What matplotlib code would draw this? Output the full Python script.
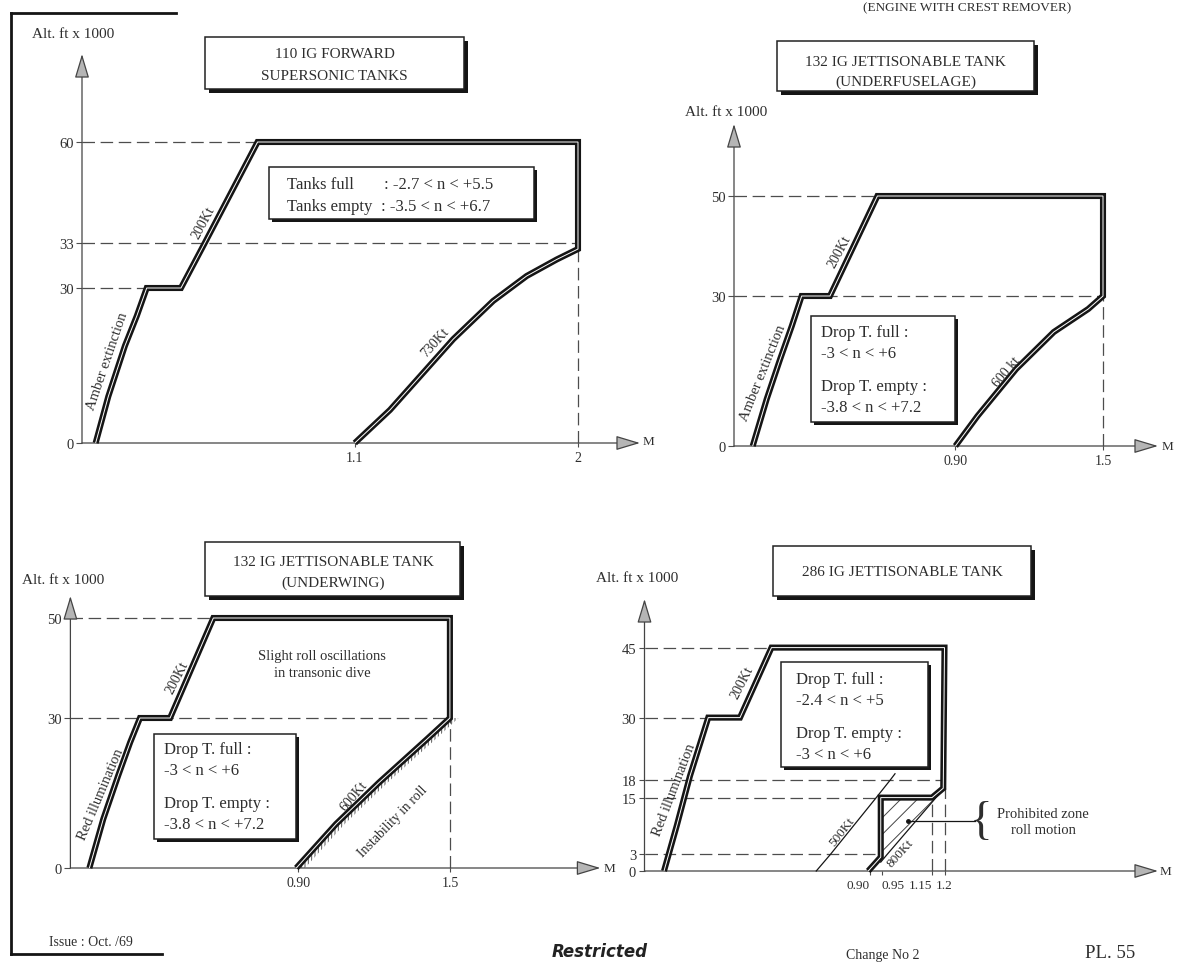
import numpy as np
import matplotlib.pyplot as plt
from matplotlib.patches import Rectangle
from matplotlib.ticker import NullLocator

plt.rcParams['font.family'] = ['Liberation Serif', 'DejaVu Serif']
plt.rcParams['hatch.linewidth'] = 0.7

W, H = 1192, 978
INK = '#151515'
TXT = '#2e2e2e'
DASH = '#4d4d4d'

# ---- panel A : 110 IG forward supersonic tanks
a_yticks = [0, 30, 33, 60]
a_xticks = [1.1, 2]
a_xlabels = ['1.1', '2']
a_env_m = [0.055, 0.106, 0.173, 0.221, 0.261, 0.399, 0.495, 0.708, 2.0, 2.0]
a_env_alt = [0, 9.0, 18.8, 24.6, 30, 30, 33, 60, 60, 32.6]
a_730_m = [2.0, 1.914, 1.793, 1.658, 1.497, 1.376, 1.242, 1.10]
a_730_alt = [32.6, 31.9, 30.8, 27.5, 20.1, 13.6, 6.4, 0]

# ---- panel B : 132 IG jettisonable tank (underfuselage)
b_yticks = [0, 30, 50]
b_xticks = [0.90, 1.5]
b_xlabels = ['0.90', '1.5']
b_env_m = [0.076, 0.133, 0.187, 0.235, 0.275, 0.39, 0.583, 1.5, 1.5]
b_env_alt = [0, 9.4, 17.3, 24.0, 30, 30, 50, 50, 30]
b_600_m = [1.5, 1.44, 1.30, 1.147, 0.99, 0.90]
b_600_alt = [30, 27.4, 22.8, 15.4, 6.0, 0]

# ---- panel C : 132 IG jettisonable tank (underwing)
c_yticks = [0, 30, 50]
c_xticks = [0.90, 1.5]
c_xlabels = ['0.90', '1.5']
c_env_m = [0.075, 0.13, 0.189, 0.236, 0.275, 0.394, 0.565, 1.5, 1.5]
c_env_alt = [0, 9.8, 18.5, 25.1, 30, 30, 50, 50, 30]
c_600_m = [1.5, 1.41, 1.22, 1.05, 0.893]
c_600_alt = [30, 25.8, 17.1, 8.8, 0]

# ---- panel D : 286 IG jettisonable tank
d_yticks = [0, 3, 15, 18, 30, 45]
d_xticks = [0.90, 0.95, 1.15, 1.2]
d_xlabels = ['0.90', '0.95', '1.15', '1.2']
d_env_m = [0.078, 0.129, 0.182, 0.255, 0.382, 0.508, 1.2, 1.195, 1.15, 0.945, 0.945, 0.895]
d_env_alt = [0, 9.05, 18.8, 30, 30, 45, 45, 16.6, 15, 15, 2.5, 0]
d_500_m = [0.687, 0.744, 0.927, 0.983, 1.002]
d_500_alt = [0, 3, 15, 18, 19.2]
d_800_m = [0.945, 0.971, 1.166, 1.2]
d_800_alt = [1.6, 3, 15, 16.5]
d_zone_m = [0.945, 0.945, 1.15, 1.195, 1.2, 1.166, 0.971]
d_zone_alt = [1.6, 15, 15, 16.6, 16.5, 15, 3]


def alt_scale(vals, hts):
    # the altitude axes are drawn schematically: piecewise linear between ticks
    v = np.array(vals, float)
    h = np.array(hts, float)
    s0 = (h[1] - h[0]) / (v[1] - v[0])
    s1 = (h[-1] - h[-2]) / (v[-1] - v[-2])
    v = np.r_[v[0] - 500, v, v[-1] + 500]
    h = np.r_[h[0] - 500 * s0, h, h[-1] + 500 * s1]
    return (lambda a: np.interp(a, v, h)), (lambda p: np.interp(p, h, v))


fig = plt.figure(figsize=(W / 100, H / 100), dpi=100)
fig.patch.set_facecolor('white')


def panel(ox, oy, pxm, yticks, yhts, xticks, xlabels, xtip, ytip, xsize=10):
    left, right = ox - 60, ox + xtip + 20
    top, bottom = oy - ytip - 8, oy + 30
    ax = fig.add_axes([left / W, 1 - bottom / H, (right - left) / W, (bottom - top) / H])
    fwd, inv = alt_scale(yticks, yhts)
    ax.set_yscale('function', functions=(fwd, inv))
    ax.set_xlim(-60 / pxm, (xtip + 20) / pxm)
    ax.set_ylim(float(inv(-30)), float(inv(ytip + 8)))
    ax.patch.set_alpha(0)
    for s in ax.spines.values():
        s.set_visible(False)
    ax.spines['left'].set_position(('data', 0))
    ax.spines['bottom'].set_position(('data', 0))
    ax.xaxis.set_minor_locator(NullLocator())
    ax.yaxis.set_minor_locator(NullLocator())
    ax.set_yticks(yticks)
    ax.set_yticklabels([str(v) for v in yticks])
    ax.set_xticks(xticks)
    ax.set_xticklabels(xlabels)
    ax.tick_params(axis='y', length=4, width=0.8, pad=2, labelsize=10.5,
                   color=DASH, labelcolor=TXT)
    ax.tick_params(axis='x', length=3, width=0.8, pad=3, labelsize=xsize,
                   color=DASH, labelcolor=TXT)
    head = dict(arrowstyle='-|>,head_length=1.5,head_width=0.45', lw=0.9,
                ec='#444444', fc='#b5b5b5', shrinkA=0, shrinkB=0)
    ax.annotate('', xy=(0, float(inv(ytip))), xytext=(0, 0), arrowprops=head)
    ax.annotate('', xy=(xtip / pxm, 0), xytext=(0, 0), arrowprops=head)
    return ax


def double(ax, m, a):
    ax.plot(m, a, color=INK, lw=4.4, solid_joinstyle='miter', solid_capstyle='butt', zorder=4)
    ax.plot(m, a, color='white', lw=0.7, solid_joinstyle='miter', solid_capstyle='butt', zorder=5)


def dashed(ax, m, a):
    ax.plot(m, a, color=DASH, lw=0.9, dashes=(10, 4.5), zorder=2)


def label(ax, m, a, s, rot, size=10):
    ax.text(m, a, s, rotation=rot, rotation_mode='anchor', ha='center', va='center',
            fontsize=size, color=TXT, zorder=6)


# panel A
axA = panel(82, 444, 248, a_yticks, [0, 155, 200, 301], a_xticks, a_xlabels, 558, 389)
double(axA, a_env_m + a_730_m, a_env_alt + a_730_alt)
dashed(axA, [0, a_env_m[7]], [60, 60])
dashed(axA, [0, a_env_m[8]], [33, 33])
dashed(axA, [0, a_env_m[4]], [30, 30])
dashed(axA, [2.0, 2.0], [0, a_730_alt[0]])
label(axA, 0.104, 16.0, 'Amber extinction', 71, 10.5)
label(axA, 0.488, 38.7, '200Kt', 62)
label(axA, 1.423, 19.6, '730Kt', 48)

# panel B
axB = panel(734, 447, 246, b_yticks, [0, 150, 250], b_xticks, b_xlabels, 424, 322)
double(axB, b_env_m + b_600_m, b_env_alt + b_600_alt)
dashed(axB, [0, b_env_m[6]], [50, 50])
dashed(axB, [0, 1.5], [30, 30])
dashed(axB, [1.5, 1.5], [0, 30])
label(axB, 0.118, 14.8, 'Amber extinction', 68, 10.5)
label(axB, 0.427, 39, '200Kt', 62)
label(axB, 1.11, 15.0, '600 kt', 50)

# panel C
axC = panel(70.4, 869, 253, c_yticks, [0, 150, 250], c_xticks, c_xlabels, 530, 272)
double(axC, c_env_m + c_600_m, c_env_alt + c_600_alt)
axC.fill_betweenx(c_600_alt, c_600_m, np.array(c_600_m) + 0.034, facecolor='none',
                  edgecolor='#555555', hatch='|||||', lw=0, zorder=3)
dashed(axC, [0, c_env_m[6]], [50, 50])
dashed(axC, [0, 1.5], [30, 30])
dashed(axC, [1.5, 1.5], [0, 30])
label(axC, 0.12, 14.8, 'Red illumination', 67, 10.5)
label(axC, 0.422, 38.3, '200Kt', 63)
label(axC, 1.122, 14.4, '600Kt', 50)
label(axC, 1.275, 9.4, 'Instability in roll', 46, 10)
axC.text(0.995, 40.8, 'Slight roll oscillations\nin transonic dive', ha='center',
         va='center', fontsize=10.5, color=TXT, linespacing=1.4)

# panel D
axD = panel(644.5, 872, 250, d_yticks, [0, 16.7, 73.4, 91, 153.4, 223.4],
            d_xticks, d_xlabels, 513.5, 272, xsize=9.5)
for lab, ha in zip(axD.get_xticklabels(), ['right', 'left', 'right', 'center']):
    lab.set_ha(ha)
axD.fill(d_zone_m, d_zone_alt, facecolor='none', edgecolor='#444444', hatch='//', lw=0, zorder=3)
double(axD, d_env_m, d_env_alt)
axD.plot(d_500_m, d_500_alt, color=INK, lw=0.9, zorder=3)
axD.plot(d_800_m, d_800_alt, color=INK, lw=0.9, zorder=3)
dashed(axD, [0, d_env_m[5]], [45, 45])
dashed(axD, [0, d_env_m[3]], [30, 30])
dashed(axD, [0, d_env_m[6]], [18, 18])
dashed(axD, [0, d_env_m[9]], [15, 15])
dashed(axD, [0, d_env_m[9]], [3, 3])
dashed(axD, [1.15, 1.15], [0, 15])
dashed(axD, [1.2, 1.2], [0, 16.6])
axD.plot([1.054, 1.322], [10, 10], color=INK, lw=0.9, zorder=6)
axD.plot([1.054], [10], 'o', color=INK, ms=2.5, zorder=6)
label(axD, 0.117, 16.5, 'Red illumination', 69, 10.5)
label(axD, 0.392, 37.6, '200Kt', 63)
label(axD, 0.792, 8.0, '500Kt', 52, 9.5)
label(axD, 1.022, 3.4, '800Kt', 48, 9.5)

# ---- page furniture, in pixel coordinates
deco = fig.add_axes([0, 0, 1, 1])
deco.set_xlim(0, W)
deco.set_ylim(H, 0)
deco.axis('off')


def shadow_box(x0, y0, x1, y1, off=4):
    deco.add_patch(Rectangle((x0 + off, y0 + off), x1 - x0, y1 - y0, fc='#151515', ec='none', zorder=2))
    deco.add_patch(Rectangle((x0, y0), x1 - x0, y1 - y0, fc='white', ec='#222222', lw=1.1, zorder=3))


def t(x, y, s, size=12, ha='left', **kw):
    deco.text(x, y, s, fontsize=size, ha=ha, va='center', color=TXT, zorder=4, **kw)


for x0, y0, x1, y1 in [(205, 38, 464, 90), (777, 42, 1034, 92), (205, 543, 460, 597), (773, 547, 1031, 597)]:
    shadow_box(x0, y0, x1, y1)
t(334.5, 55, '110 IG FORWARD', 11, ha='center')
t(334.5, 76, 'SUPERSONIC TANKS', 11, ha='center')
t(905.5, 62, '132 IG JETTISONABLE TANK', 11, ha='center')
t(905.5, 82, '(UNDERFUSELAGE)', 11, ha='center')
t(333, 563, '132 IG JETTISONABLE TANK', 11, ha='center')
t(333, 583, '(UNDERWING)', 11, ha='center')
t(902, 573, '286 IG JETTISONABLE TANK', 11, ha='center')

for x0, y0, x1, y1 in [(269, 168, 534, 220), (811, 317, 955, 423), (154, 735, 296, 840), (781, 663, 928, 768)]:
    shadow_box(x0, y0, x1, y1, off=3)
t(287, 185, 'Tanks full')
t(384, 185, ': -2.7 < n < +5.5')
t(287, 207, 'Tanks empty')
t(381, 207, ': -3.5 < n < +6.7')
for x, y0, lines in [(821, 333, ['Drop T. full :', '-3 < n < +6', 'Drop T. empty :', '-3.8 < n < +7.2']),
                     (164, 750, ['Drop T. full :', '-3 < n < +6', 'Drop T. empty :', '-3.8 < n < +7.2']),
                     (796, 680, ['Drop T. full :', '-2.4 < n < +5', 'Drop T. empty :', '-3 < n < +6'])]:
    for dy, s in zip([0, 21, 54, 75], lines):
        t(x, y0 + dy, s)

t(32, 35, 'Alt. ft x 1000', 11)
t(685, 112, 'Alt. ft x 1000', 11)
t(22, 580, 'Alt. ft x 1000', 11)
t(596, 579, 'Alt. ft x 1000', 11)
t(643, 442, 'M', 9.5)
t(1162, 447, 'M', 9.5)
t(604, 869, 'M', 9.5)
t(1160, 872, 'M', 9.5)

t(981, 823, '{', 34, ha='center', fontweight='light')
t(1043, 814, 'Prohibited zone', 10.5, ha='center')
t(1043, 831, 'roll motion', 10.5, ha='center')

t(967, 8, '(ENGINE WITH CREST REMOVER)', 9.5, ha='center')
t(49, 942, 'Issue : Oct. /69', 10)
deco.text(600, 952, 'Restricted', fontsize=12, ha='center', va='center', color='#222222',
          family=['DejaVu Sans'], style='italic', fontweight='bold')
t(883, 955, 'Change No 2', 10, ha='center')
t(1110, 953, 'PL. 55', 13.5, ha='center')

deco.plot([11, 11], [14, 955], color=INK, lw=2)
deco.plot([11, 176], [14, 14], color=INK, lw=2)
deco.plot([11, 162], [955, 955], color=INK, lw=2)

fig.savefig('out.png', dpi=100)
